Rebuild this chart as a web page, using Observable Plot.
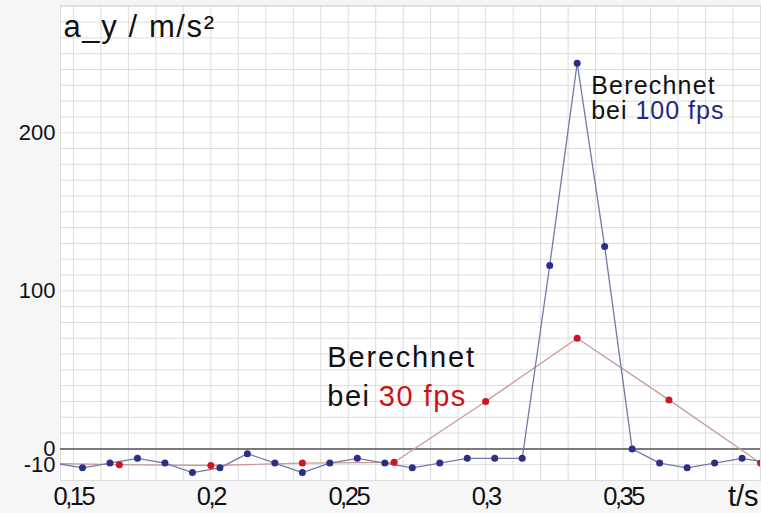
<!DOCTYPE html>
<html><head><meta charset="utf-8">
<script src="https://cdn.jsdelivr.net/npm/d3@7"></script>
<script src="https://cdn.jsdelivr.net/npm/@observablehq/plot@0.6"></script>
<style>
body{margin:0;background:#fff} svg{display:block}
g[aria-label="x-axis tick label"] text{letter-spacing:-2.5px}
</style>
</head><body><div id="chart"></div>
<script>
// 100 fps series (t in s, a_y in m/s²)
const blueT = [0.1433,0.1533,0.1633,0.1733,0.1833,0.1933,0.2033,0.2133,0.2233,0.2333,0.2433,0.2533,0.2633,0.2733,0.2833,0.2933,0.3033,0.3133,0.3233,0.3333,0.3433,0.3533,0.3633,0.3733,0.3833,0.3933,0.4033];
const blueA = [-9,-12,-9,-6,-9,-15,-12,-3,-9,-15,-9,-6,-9,-12,-9,-6,-6,-6,116,244,128,0,-9,-12,-9,-6,-9];
// 30 fps series
const redT = [0.1333,0.1667,0.2,0.2333,0.2667,0.3,0.3333,0.3667,0.4];
const redA = [-9,-10,-10.5,-9,-8.5,30,70,31,-9];
// ticks
const xTicks = [0.15,0.2,0.25,0.3,0.35];
const xTickLabels = ["0,15","0,2","0,25","0,3","0,35"];
const yTicks = [-10,0,100,200];
const yTickLabels = ["-10","0","100","200"];
const xGrid = d3.range(15,40).map(d => d/100);
const yGrid = d3.range(-20,290,10);

const blue = blueT.map((t,i) => ({t, a: blueA[i]}));
const red = redT.map((t,i) => ({t, a: redA[i]}));

const FONT = "'Liberation Sans', Arial, sans-serif";

const chart = Plot.plot({
  width: 761, height: 513,
  marginLeft: 60, marginRight: 1, marginTop: 5, marginBottom: 33,
  style: {fontFamily: FONT, background: "#f6f6f6", color: "#111"},
  x: {domain: [0.1453, 0.4]},
  y: {domain: [-20, 280.5]},
  marks: [
    Plot.frame({fill: "#fff", stroke: "#ddd"}),
    Plot.ruleX(xGrid, {stroke: "#dcdcdc", strokeWidth: 1, strokeOpacity: 1}),
    Plot.ruleY(yGrid, {stroke: "#dcdcdc", strokeWidth: 1, strokeOpacity: 1}),
    Plot.ruleY([0], {stroke: "#555", strokeWidth: 1.5}),
    Plot.line(red, {x: "t", y: "a", stroke: "#c99a9a", strokeWidth: 1.3, clip: true}),
    Plot.line(blue, {x: "t", y: "a", stroke: "#737aa8", strokeWidth: 1.3, clip: true}),
    Plot.dot(red, {x: "t", y: "a", r: 3.5, fill: "#cc1424", clip: true}),
    Plot.dot(blue, {x: "t", y: "a", r: 3.5, fill: "#2b2f8a", clip: true}),
    Plot.axisY({ticks: yTicks, tickFormat: d => yTickLabels[yTicks.indexOf(d)], tickSize: 0, tickPadding: 5, fontSize: 22, label: null}),
    Plot.axisX({ticks: xTicks, tickFormat: d => xTickLabels[xTicks.indexOf(d)], tickSize: 0, tickPadding: 6, fontSize: 25.5, label: null}),
    // axis titles
    Plot.text(["a_y / m/s²"], {frameAnchor: "top-left", dx: 3, dy: 9, lineAnchor: "top", textAnchor: "start", fontSize: 31, fill: "#111"}),
    Plot.text(["t/s"], {frameAnchor: "bottom-right", dx: -2, dy: 16, lineAnchor: "middle", textAnchor: "end", fontSize: 29, fill: "#111"}),
    // annotations 100 fps
    Plot.text(["Berechnet"], {x: [0.3384], y: [229.7], textAnchor: "start", lineAnchor: "middle", fontSize: 25, fill: "#111"}),
    Plot.text(["bei"], {x: [0.3384], y: [213.9], textAnchor: "start", lineAnchor: "middle", fontSize: 25, fill: "#111"}),
    Plot.text(["100 fps"], {x: [0.3545], y: [213.9], textAnchor: "start", lineAnchor: "middle", fontSize: 25, fill: "#1f2a80"}),
    // annotations 30 fps
    Plot.text(["Berechnet"], {x: [0.2424], y: [57.6], textAnchor: "start", lineAnchor: "middle", fontSize: 29, fill: "#111"}),
    Plot.text(["bei"], {x: [0.2424], y: [33.3], textAnchor: "start", lineAnchor: "middle", fontSize: 29, fill: "#111"}),
    Plot.text(["30 fps"], {x: [0.2611], y: [33.3], textAnchor: "start", lineAnchor: "middle", fontSize: 29, fill: "#c81414"})
  ]
});
// widen the annotation lettering a little (the reference text is wider than Arial)
d3.select(chart).selectAll("g[aria-label='text'] text").each(function() {
  const fs = parseFloat(this.closest("g").getAttribute("font-size")) || 0;
  const t = this.textContent;
  let ls = 0;
  if (t === "a_y / m/s²") ls = 1.6;
  else if (t === "Berechnet") ls = fs > 26 ? 1.8 : 1.2;
  else if (t === "bei" || t.endsWith("fps")) ls = fs > 26 ? 1.5 : 1;
  if (ls) this.setAttribute("letter-spacing", ls + "px");
});
document.getElementById("chart").append(chart);
</script>
</body></html>
